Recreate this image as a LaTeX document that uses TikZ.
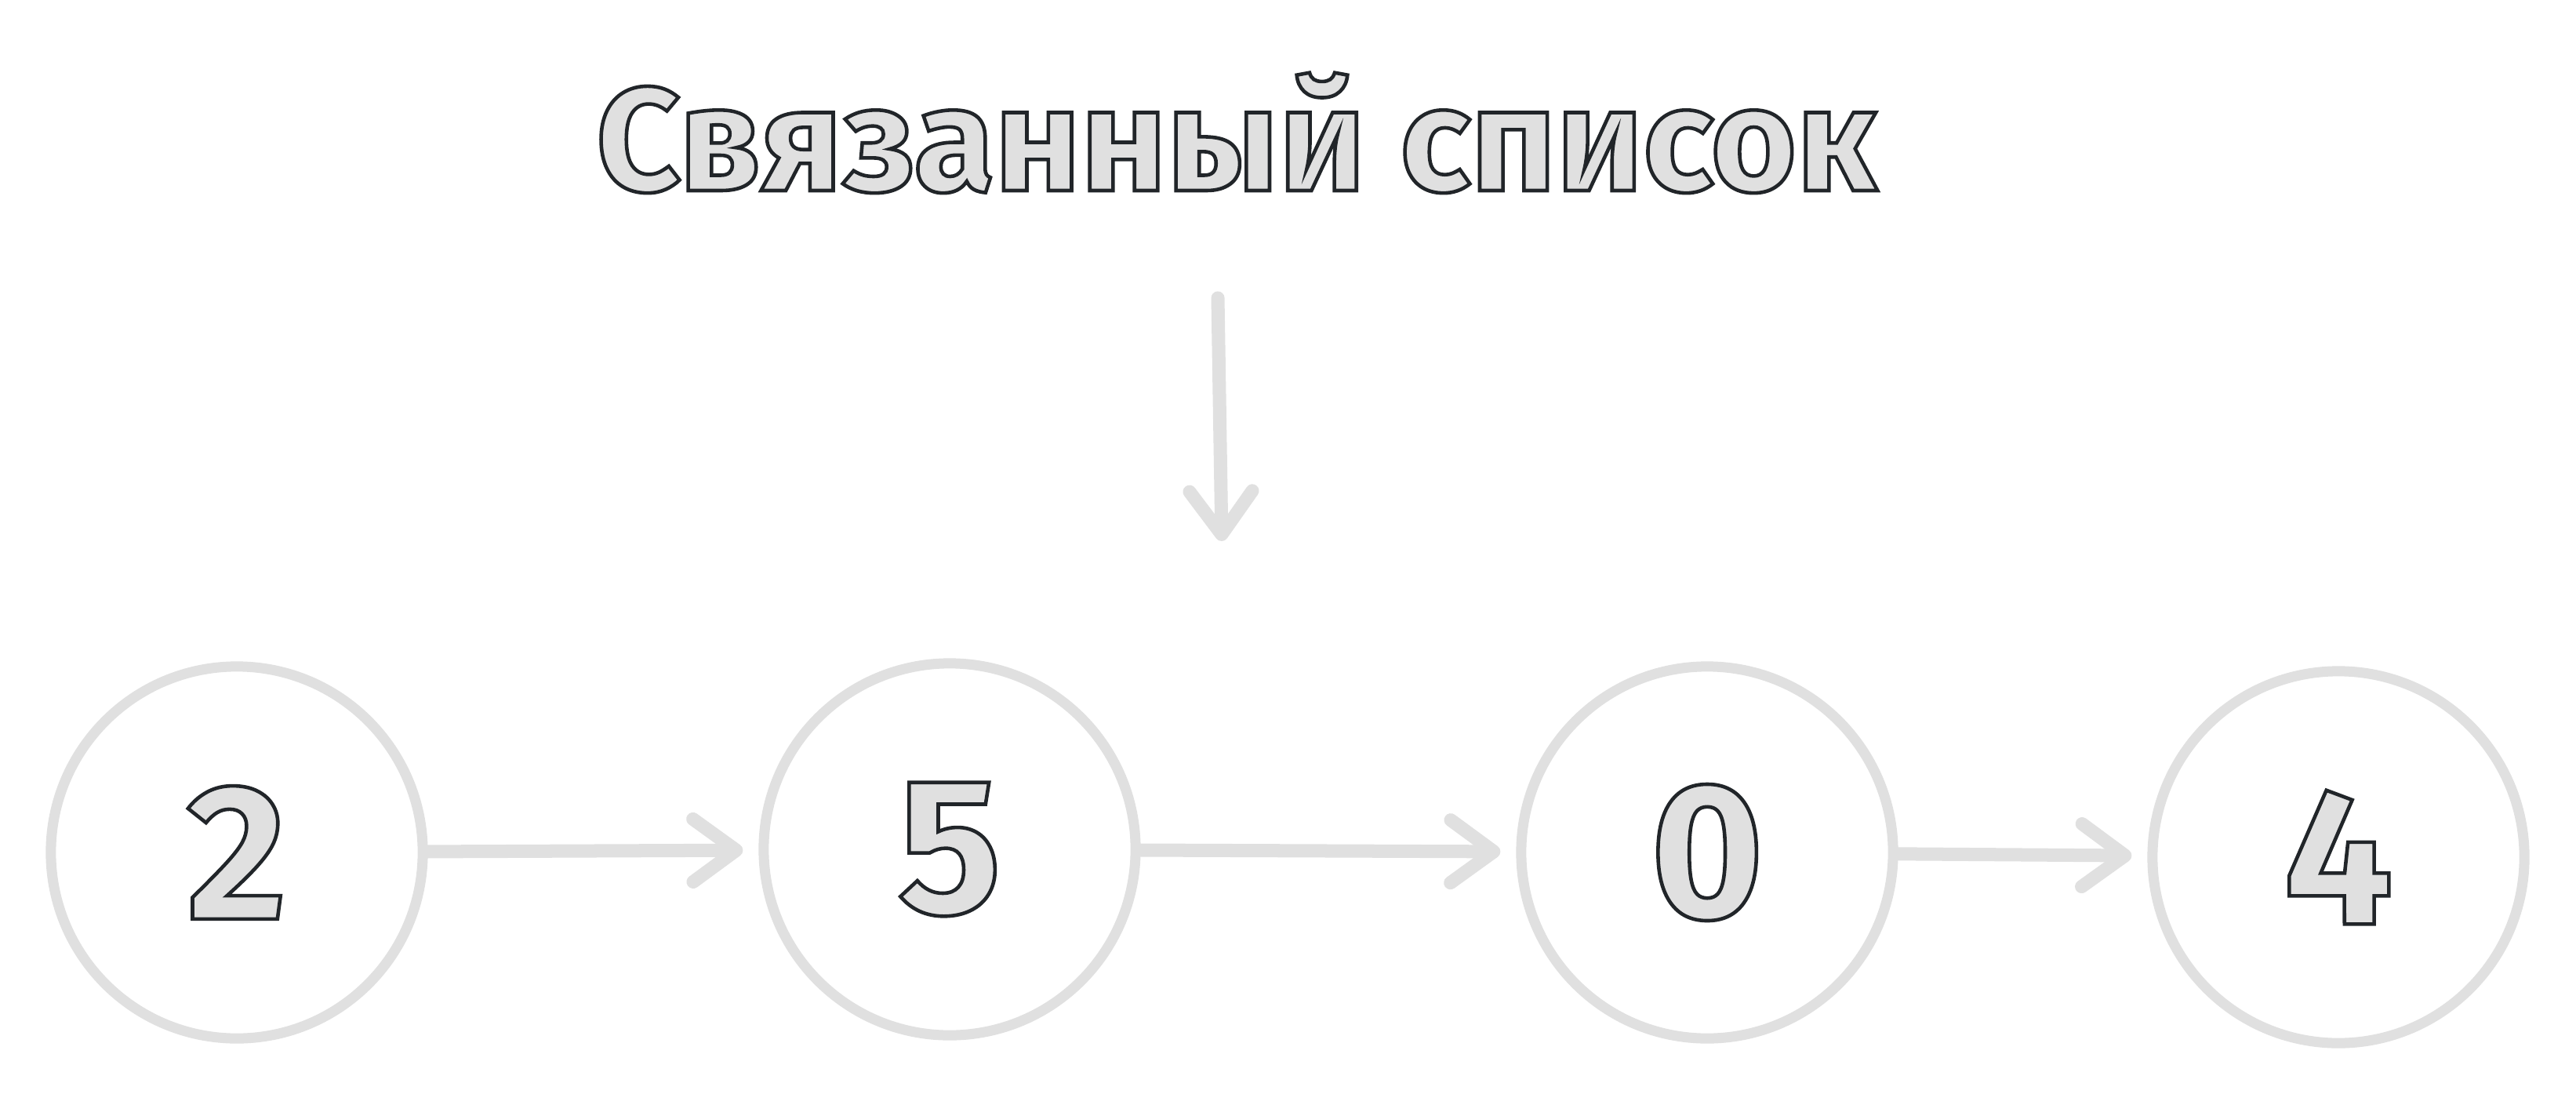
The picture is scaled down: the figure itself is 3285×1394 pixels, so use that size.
\documentclass[tikz,border=0pt]{standalone}
\usepackage{fontspec}
\setmainfont{Fira Sans}
\usetikzlibrary{arrows.meta}
\definecolor{lightg}{HTML}{E0E0E0}
\definecolor{inkc}{HTML}{212529}
\newcommand{\outlinedtext}[1]{\special{pdf:literal direct 2 Tr 1.3 w 0.13 0.145 0.16 RG}#1\special{pdf:literal direct 0 Tr}}
\tikzset{
  numnode/.style={circle, draw=lightg, line width=0.13cm, minimum size=4.74cm, inner sep=0pt,
    text=lightg, font=\fontsize{70}{80}\selectfont\bfseries},
  titlenode/.style={text=lightg, font=\fontsize{53.3}{64}\selectfont\bfseries, inner sep=0pt},
  link/.style={draw=lightg, line width=0.17cm, line cap=round,
    -{Straight Barb[length=0.55cm, width=0.8cm, round]}, shorten >=0.2cm}
}
\begin{document}
\begin{tikzpicture}[x=0.01cm, y=-0.01cm]
\useasboundingbox[fill=white] (0,0) rectangle (3285,1394);
\node[titlenode, anchor=base] (title) at (1577,243) {\outlinedtext{Связанный список}};
\node[numnode] (n1) at (302,1087) {\outlinedtext{2}};
\node[numnode] (n2) at (1211,1083) {\outlinedtext{5}};
\node[numnode] (n3) at (2177,1087) {\outlinedtext{0}};
\node[numnode] (n4) at (2982,1093) {\outlinedtext{4}};
\coordinate (headtop) at (1553,380);
\coordinate (headend) at (1558,690);
\draw[link, shorten >=0pt] (headtop) -- (headend);
\draw[link] (n1) -- (n2);
\draw[link] (n2) -- (n3);
\draw[link] (n3) -- (n4);
\end{tikzpicture}
\end{document}
